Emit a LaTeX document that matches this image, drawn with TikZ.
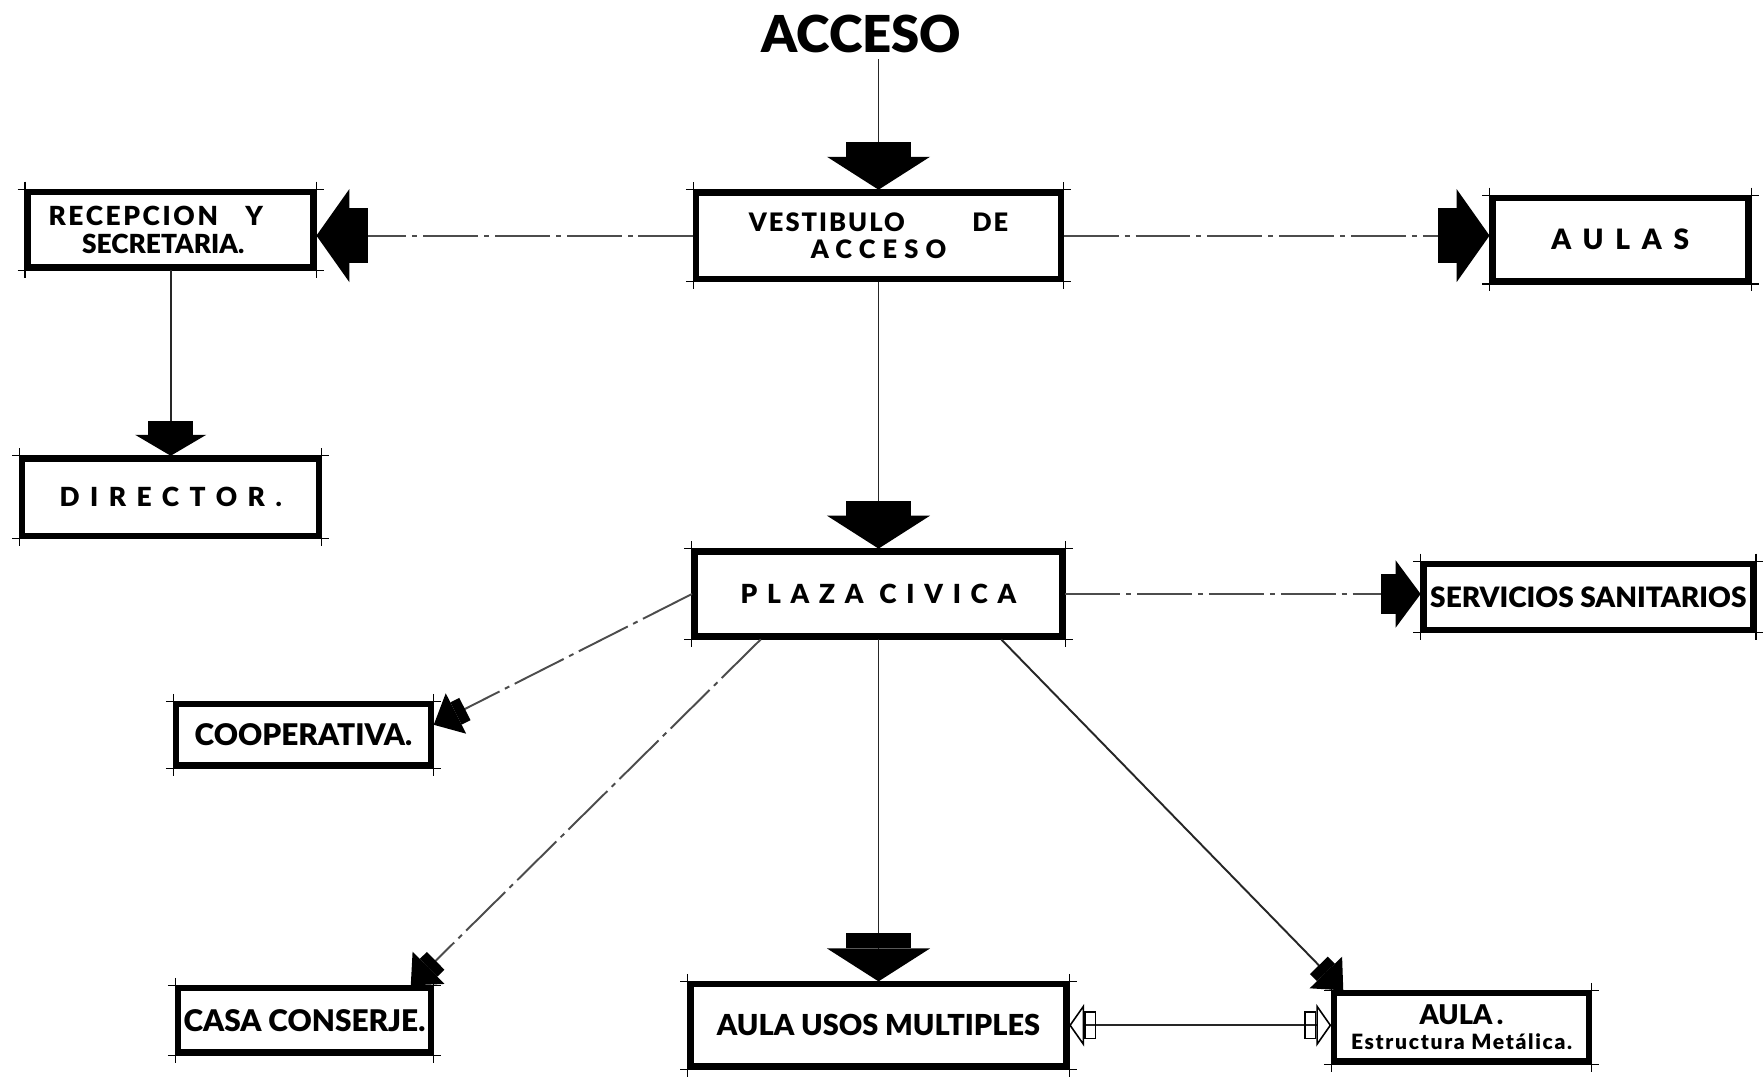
\documentclass[tikz,border=0pt]{standalone}
\usepackage{fontspec}
\setmainfont{Liberation Sans}
\newfontfamily\heavy{Lato Black}
\usetikzlibrary{arrows.meta,positioning}

\begin{document}
\begin{tikzpicture}[
  x=0.02cm, y=-0.02cm,
  room/.style={draw=black, line width=3.4pt, fill=white, inner sep=0pt, align=center,
    font=\heavy\fontsize{14}{16}\selectfont, frame ticks},
  tickline/.style={draw=black, line width=0.6pt},
  frame ticks/.style={append after command={
    \pgfextra{\let\roomnode\tikzlastnode}
    ([xshift=-0.15cm]\roomnode.north west) edge[tickline] ([xshift=0.15cm]\roomnode.north east)
    ([xshift=-0.15cm]\roomnode.south west) edge[tickline] ([xshift=0.15cm]\roomnode.south east)
    ([yshift=0.15cm]\roomnode.north west) edge[tickline] ([yshift=-0.15cm]\roomnode.south west)
    ([yshift=0.15cm]\roomnode.north east) edge[tickline] ([yshift=-0.15cm]\roomnode.south east)}},
  link/.style={line width=1.1pt, draw=black!85},
  centre line/.style={link, draw=black!70, dash pattern=on 1.1cm off 0.12cm on 0.1cm off 0.12cm},
  bigdrop/.style={-{Rectangle[color=black,length=0.3cm,width=1.32cm] Triangle[color=black,length=0.66cm,width=2.06cm]}},
  sidedrop/.style={-{Rectangle[color=black,length=0.38cm,width=1.1cm] Triangle[color=black,length=0.66cm,width=1.86cm]}},
  smalldrop/.style={-{Rectangle[color=black,length=0.28cm,width=0.9cm] Triangle[color=black,length=0.42cm,width=1.42cm]}},
  wcdrop/.style={-{Rectangle[color=black,length=0.3cm,width=0.82cm] Triangle[color=black,length=0.5cm,width=1.34cm]}},
  slantdrop/.style={-{Rectangle[color=black,length=0.2cm,width=0.5cm] Triangle[color=black,length=0.5cm,width=0.9cm]}},
  twoway/.style={line width=0.9pt,
    {Triangle[open,color=black,length=0.3cm,width=0.85cm] Rectangle[open,color=black,length=0.24cm,width=0.56cm]}-{Rectangle[open,color=black,length=0.24cm,width=0.56cm] Triangle[open,color=black,length=0.3cm,width=0.85cm]}}
]
  \path[fill=white] (0,0) rectangle (1764,1076);

  % rooms
  \node[font=\heavy\fontsize{29}{30}\selectfont] (acceso) at (863,34) {ACCESO};
  \node[room, minimum width=7.3cm, minimum height=1.72cm, font=\heavy\fontsize{14.5}{15}\selectfont] (vest) at (880,236)
    {\addfontfeatures{LetterSpace=8}VESTIBULO\hspace{1.35cm}DE\\\addfontfeatures{LetterSpace=28}ACCESO};
  \node[room, minimum width=5.72cm, minimum height=1.5cm, font=\heavy\fontsize{15}{16}\selectfont] (recep) at (171,230)
    {\addfontfeatures{LetterSpace=10}RECEPCION\hspace{0.55cm}Y\hspace{0.6cm}\null\\SECRETARIA.\hspace{0.3cm}\null};
  \node[room, minimum width=5.12cm, minimum height=1.66cm, font=\heavy\fontsize{16}{17}\selectfont] (aulas) at (1623,240)
    {\addfontfeatures{LetterSpace=42}AULAS};
  \node[room, minimum width=5.94cm, minimum height=1.54cm, font=\heavy\fontsize{15}{16}\selectfont] (director) at (171,498)
    {\addfontfeatures{LetterSpace=40}DIRECTOR.};
  \node[room, minimum width=7.36cm, minimum height=1.7cm, font=\heavy\fontsize{15}{16}\selectfont] (plaza) at (880,595)
    {\addfontfeatures{LetterSpace=37}PLAZA CIVICA};
  \node[room, minimum width=6.6cm, minimum height=1.32cm, font=\heavy\fontsize{16}{16}\selectfont] (servicios) at (1591,598)
    {SERVICIOS SANITARIOS};
  \node[room, minimum width=5.1cm, minimum height=1.22cm, font=\heavy\fontsize{17}{17}\selectfont] (coop) at (304,736)
    {COOPERATIVA.};
  \node[room, minimum width=5.06cm, minimum height=1.28cm, font=\heavy\fontsize{17}{17}\selectfont] (casa) at (305,1022)
    {CASA CONSERJE.};
  \node[room, minimum width=7.52cm, minimum height=1.64cm, font=\heavy\fontsize{16.5}{17}\selectfont] (multiples) at (880,1027)
    {AULA USOS MULTIPLES};
  \node[room, minimum width=5.1cm, minimum height=1.36cm, font=\heavy\fontsize{15.5}{14}\selectfont] (aula) at (1464,1029)
    {AULA\,.\\{\fontsize{12}{13}\selectfont\addfontfeatures{LetterSpace=8}Estructura Metálica.}};

  % circulation
  \draw[link, bigdrop] (vest.north |- acceso.south) -- (vest.north);
  \draw[centre line, sidedrop] (vest.west) -- (vest.west -| recep.east);
  \draw[centre line, sidedrop] (vest.east) -- (vest.east -| aulas.west);
  \draw[link, smalldrop] (recep.south) -- (director.north);
  \draw[link, bigdrop] (vest.south) -- (plaza.north);
  \draw[centre line, wcdrop] (plaza.east) -- (plaza.east -| servicios.west);
  \draw[centre line, slantdrop] (plaza.west) -- ([yshift=0.2cm]coop.east);
  \draw[centre line, slantdrop] ([xshift=1.38cm]plaza.south west) -- ([xshift=-0.46cm]casa.north east);
  \draw[link, bigdrop] (plaza.south) -- (multiples.north);
  \draw[link, slantdrop] ([xshift=-1.28cm]plaza.south east) -- ([xshift=0.24cm]aula.north west);
  \draw[link, twoway] (multiples.east) -- (multiples.east -| aula.west);
\end{tikzpicture}
\end{document}
